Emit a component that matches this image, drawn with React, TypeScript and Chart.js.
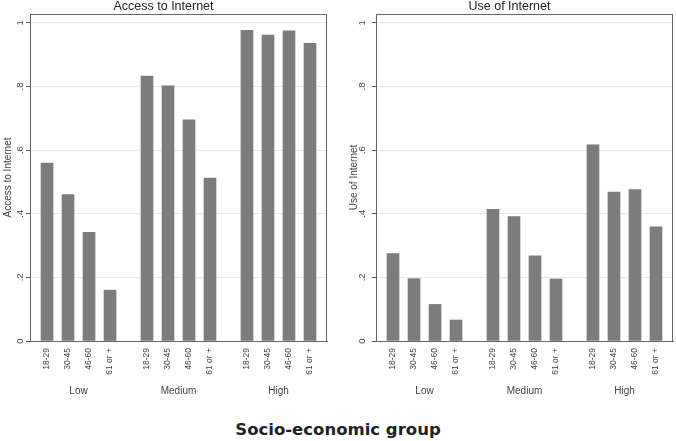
import { useEffect, useRef } from 'react';
import { Chart, registerables } from 'chart.js';

Chart.register(...registerables);

const groups = ['Low', 'Medium', 'High'];
const ageBands = ['18-29', '30-45', '46-60', '61 or +'];
const accessValues = [0.559, 0.46, 0.342, 0.16, 0.833, 0.802, 0.695, 0.512, 0.977, 0.962, 0.975, 0.936];
const useValues = [0.275, 0.196, 0.115, 0.066, 0.414, 0.391, 0.268, 0.195, 0.617, 0.468, 0.476, 0.359];
const yTickValues = [0, 0.2, 0.4, 0.6, 0.8, 1];
const yTickLabels = ['0', '.2', '.4', '.6', '.8', '1'];

const GROUP_STEP = 4.76;
const X_MIN = -0.81;
const X_MAX = 2 * GROUP_STEP + 3 + 0.81;
const SANS = "'Liberation Sans', Arial, sans-serif";
const TEXT = '#444';

const barPos = (k: number) => Math.floor(k / ageBands.length) * GROUP_STEP + (k % ageBands.length);

function framePlugin(tickX: number) {
  return {
    id: 'frame' + tickX,
    afterDraw(chart: any) {
      const { ctx, chartArea } = chart;
      const y = chart.scales.y;
      ctx.save();
      ctx.strokeStyle = '#666';
      ctx.lineWidth = 1;
      ctx.strokeRect(
        Math.round(chartArea.left) + 0.5,
        Math.round(chartArea.top) + 0.5,
        Math.round(chartArea.right - chartArea.left) - 1,
        Math.round(chartArea.bottom - chartArea.top)
      );
      ctx.fillStyle = TEXT;
      ctx.font = `9.5px ${SANS}`;
      ctx.textAlign = 'center';
      ctx.textBaseline = 'middle';
      yTickValues.forEach((v, i) => {
        const py = y.getPixelForValue(v);
        ctx.save();
        ctx.translate(tickX, py);
        ctx.rotate(-Math.PI / 2);
        ctx.fillText(yTickLabels[i], 0, 0);
        ctx.restore();
      });
      ctx.restore();
    },
  };
}

function buildConfig(title: string, yTitle: string, values: number[], padRight: number, tickX: number): any {
  const points = values.map((v, k) => ({ x: barPos(k), y: v }));
  return {
    type: 'bar',
    data: {
      datasets: [
        {
          data: points,
          backgroundColor: '#7c7c7c',
          borderWidth: 0,
          barThickness: 12,
        },
      ],
    },
    options: {
      animation: false,
      responsive: false,
      layout: { padding: { left: 0, right: padRight, top: 0, bottom: 0 } },
      plugins: {
        legend: { display: false },
        tooltip: { enabled: false },
        title: {
          display: true,
          text: title,
          color: '#222',
          font: { family: SANS, size: 12.5, weight: 'normal', lineHeight: 1 },
          padding: { top: 0, bottom: 1.5 },
        },
      },
      scales: {
        x: {
          type: 'linear',
          position: 'bottom',
          min: X_MIN,
          max: X_MAX,
          offset: false,
          grid: { display: false },
          border: { display: true, color: '#555' },
          afterBuildTicks: (s: any) => {
            s.ticks = values.map((_, k) => ({ value: barPos(k) }));
          },
          ticks: {
            autoSkip: false,
            minRotation: 90,
            maxRotation: 90,
            padding: -1,
            color: TEXT,
            font: { family: SANS, size: 8.5 },
            callback: (_v: any, i: number) => ageBands[i % ageBands.length],
          },
          afterFit: (s: any) => {
            s.height = 44;
          },
        },
        x2: {
          type: 'linear',
          position: 'bottom',
          min: X_MIN,
          max: X_MAX,
          offset: false,
          grid: { display: false },
          border: { display: false },
          afterBuildTicks: (s: any) => {
            s.ticks = groups.map((_, g) => ({ value: g * GROUP_STEP + (ageBands.length - 1) / 2 }));
          },
          ticks: {
            autoSkip: false,
            minRotation: 0,
            maxRotation: 0,
            padding: -8,
            color: TEXT,
            font: { family: SANS, size: 10 },
            callback: (_v: any, i: number) => groups[i],
          },
          afterFit: (s: any) => {
            s.height = 20;
          },
        },
        y: {
          type: 'linear',
          min: 0,
          max: 1.028,
          afterBuildTicks: (s: any) => {
            s.ticks = yTickValues.map((v) => ({ value: v }));
          },
          grid: { color: '#e8e8e8', drawTicks: true, tickLength: 4, tickColor: '#555' },
          border: { display: true, color: '#555' },
          ticks: { display: false },
          title: {
            display: true,
            text: yTitle,
            color: TEXT,
            font: { family: SANS, size: 10, lineHeight: 1.2 },
            padding: { top: 2, bottom: 0 },
          },
          afterFit: (s: any) => {
            s.width = 30;
          },
        },
      },
    },
    plugins: [framePlugin(tickX)],
  };
}

function Panel(props: { title: string; yTitle: string; values: number[]; width: number; padRight: number; tickX: number; left: number }) {
  const ref = useRef<HTMLCanvasElement | null>(null);
  useEffect(() => {
    if (!ref.current) return;
    const chart = new Chart(ref.current, buildConfig(props.title, props.yTitle, props.values, props.padRight, props.tickX));
    return () => chart.destroy();
  }, []);
  return (
    <canvas
      ref={ref}
      width={props.width}
      height={405}
      style={{ position: 'absolute', left: props.left, top: 0, display: 'block' }}
    />
  );
}

export default function App() {
  return (
    <div style={{ position: 'fixed', left: 0, top: 0, width: 676, height: 441, background: '#fff', overflow: 'hidden' }}>
      <Panel title="Access to Internet" yTitle="Access to Internet" values={accessValues} width={346} padRight={19} tickX={20} left={0} />
      <Panel title="Use of Internet" yTitle="Use of Internet" values={useValues} width={330} padRight={3} tickX={16} left={346} />
      <div
        style={{
          position: 'absolute',
          left: 0,
          top: 422,
          width: 676,
          textAlign: 'center',
          fontFamily: "'DejaVu Sans', sans-serif",
          fontWeight: 'bold',
          fontSize: 16.5,
          lineHeight: '16.5px',
          color: '#222',
        }}
      >
        Socio-economic group
      </div>
    </div>
  );
}
